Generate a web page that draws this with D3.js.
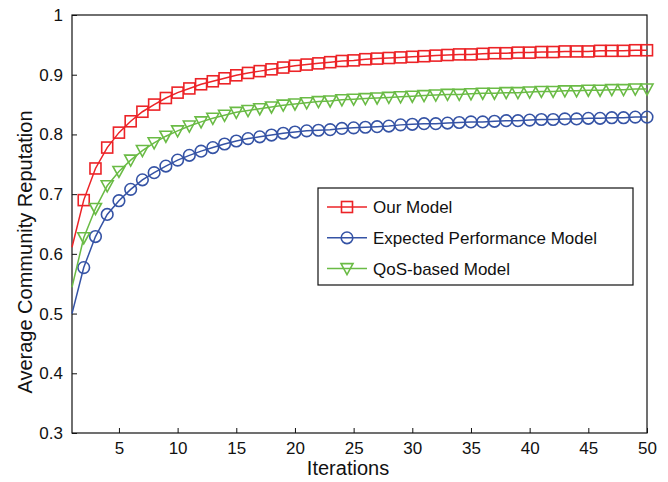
<!DOCTYPE html>
<html>
<head>
<meta charset="utf-8">
<script src="https://cdn.jsdelivr.net/npm/d3@7"></script>
<style>
  body { margin: 0; background: #fff; }
  text { font-family: "Liberation Sans", Arial, sans-serif; fill: #111; }
</style>
</head>
<body>
<div id="chart"></div>
<script>
const iterations = d3.range(1, 51);

const ourModel = [0.611, 0.690, 0.743, 0.778, 0.803, 0.822, 0.838, 0.850, 0.861, 0.870,
  0.877, 0.884, 0.889, 0.894, 0.899, 0.903, 0.906, 0.909, 0.912, 0.915,
  0.917, 0.919, 0.921, 0.923, 0.924, 0.926, 0.927, 0.928, 0.929, 0.930,
  0.931, 0.932, 0.933, 0.934, 0.934, 0.935, 0.936, 0.936, 0.937, 0.937,
  0.938, 0.938, 0.939, 0.939, 0.939, 0.940, 0.940, 0.940, 0.941, 0.941];

const expectedPerf = [0.500, 0.577, 0.629, 0.666, 0.689, 0.708, 0.724, 0.736, 0.747, 0.757,
  0.765, 0.772, 0.778, 0.784, 0.789, 0.793, 0.796, 0.799, 0.802, 0.804,
  0.806, 0.807, 0.808, 0.810, 0.811, 0.812, 0.813, 0.814, 0.816, 0.817,
  0.818, 0.818, 0.819, 0.820, 0.821, 0.821, 0.822, 0.823, 0.823, 0.824,
  0.825, 0.825, 0.826, 0.826, 0.827, 0.827, 0.828, 0.828, 0.829, 0.829];

const qosBased = [0.544, 0.627, 0.676, 0.714, 0.738, 0.757, 0.773, 0.786, 0.797, 0.806,
  0.814, 0.821, 0.827, 0.832, 0.837, 0.840, 0.843, 0.846, 0.849, 0.851,
  0.853, 0.855, 0.856, 0.858, 0.859, 0.860, 0.861, 0.862, 0.863, 0.864,
  0.865, 0.866, 0.867, 0.867, 0.868, 0.869, 0.869, 0.870, 0.870, 0.871,
  0.872, 0.872, 0.873, 0.873, 0.874, 0.874, 0.875, 0.875, 0.876, 0.876];

const seriesNames = ["Our Model", "Expected Performance Model", "QoS-based Model"];
const xTicks = [5, 10, 15, 20, 25, 30, 35, 40, 45, 50];
const yTicks = [0.3, 0.4, 0.5, 0.6, 0.7, 0.8, 0.9, 1];

const width = 668;
const height = 482;
const margin = { top: 15, right: 21, bottom: 49, left: 72 };

const svg = d3.select("#chart").append("svg").attr("width", width).attr("height", height);

const x = d3.scaleLinear().domain([1, 50]).range([margin.left, width - margin.right]);
const y = d3.scaleLinear().domain([0.3, 1]).range([height - margin.bottom, margin.top]);

const series = [
  { name: seriesNames[0], values: ourModel, color: "#ec2327", marker: "square" },
  { name: seriesNames[1], values: expectedPerf, color: "#3553a5", marker: "circle" },
  { name: seriesNames[2], values: qosBased, color: "#6abb45", marker: "triangle" }
];

// axes (ticks point inward)
svg.append("g")
  .attr("transform", `translate(0,${y.range()[0]})`)
  .call(d3.axisBottom(x).tickValues(xTicks).tickSizeInner(-5).tickSizeOuter(0).tickPadding(9))
  .call((g) => g.select(".domain").remove())
  .call((g) => g.selectAll("line").attr("stroke", "#111"))
  .call((g) => g.selectAll("text").attr("font-size", 17).attr("fill", "#111"));

svg.append("g")
  .attr("transform", `translate(${x.range()[0]},0)`)
  .call(d3.axisLeft(y).tickValues(yTicks).tickFormat((d) => (d === 1 ? "1" : d3.format(".1f")(d)))
    .tickSizeInner(-5).tickSizeOuter(0).tickPadding(9))
  .call((g) => g.select(".domain").remove())
  .call((g) => g.selectAll("line").attr("stroke", "#111"))
  .call((g) => g.selectAll("text").attr("font-size", 17).attr("fill", "#111"));

// frame
svg.append("rect")
  .attr("x", x.range()[0])
  .attr("y", y.range()[1])
  .attr("width", x.range()[1] - x.range()[0])
  .attr("height", y.range()[0] - y.range()[1])
  .attr("fill", "none")
  .attr("stroke", "#111")
  .attr("stroke-width", 1.2);

const line = d3.line().x((d, i) => x(iterations[i])).y((d) => y(d));

function drawMarker(g, type, color) {
  if (type === "square") {
    g.append("rect").attr("x", -5.5).attr("y", -5.5).attr("width", 11).attr("height", 11)
      .attr("fill", "none").attr("stroke", color).attr("stroke-width", 1.6);
  } else if (type === "circle") {
    g.append("circle").attr("r", 5.8)
      .attr("fill", "none").attr("stroke", color).attr("stroke-width", 1.6);
  } else {
    g.append("path").attr("d", "M-6,-5L6,-5L0,6Z")
      .attr("fill", "none").attr("stroke", color).attr("stroke-width", 1.6);
  }
}

series.forEach((s) => {
  svg.append("path")
    .datum(s.values)
    .attr("fill", "none")
    .attr("stroke", s.color)
    .attr("stroke-width", 1.5)
    .attr("d", line);

  svg.append("g")
    .selectAll("g")
    .data(s.values.slice(1))
    .enter()
    .append("g")
    .attr("transform", (d, i) => `translate(${x(iterations[i + 1])},${y(d)})`)
    .each(function () { drawMarker(d3.select(this), s.marker, s.color); });
});

// axis titles
svg.append("text")
  .attr("x", 348)
  .attr("y", 475)
  .attr("text-anchor", "middle")
  .attr("font-size", 20)
  .text("Iterations");

svg.append("text")
  .attr("transform", "translate(32,252) rotate(-90)")
  .attr("text-anchor", "middle")
  .attr("font-size", 20)
  .text("Average Community Reputation");

// legend
const legend = svg.append("g").attr("transform", "translate(318,188)");
legend.append("rect")
  .attr("width", 315).attr("height", 97)
  .attr("fill", "#fff").attr("stroke", "#111").attr("stroke-width", 1.2);

const legendItems = legend.selectAll(".legend-item")
  .data(series)
  .enter()
  .append("g")
  .attr("class", "legend-item")
  .attr("transform", (d, i) => `translate(0,${19 + i * 30.8})`);

legendItems.append("line")
  .attr("x1", 9).attr("x2", 49)
  .attr("stroke", (d) => d.color).attr("stroke-width", 1.5);

legendItems.append("g")
  .attr("transform", "translate(29,0)")
  .each(function (d) { drawMarker(d3.select(this), d.marker, d.color); });

legendItems.append("text")
  .attr("x", 55)
  .attr("y", 6)
  .attr("font-size", 17)
  .text((d) => d.name);
</script>
</body>
</html>
